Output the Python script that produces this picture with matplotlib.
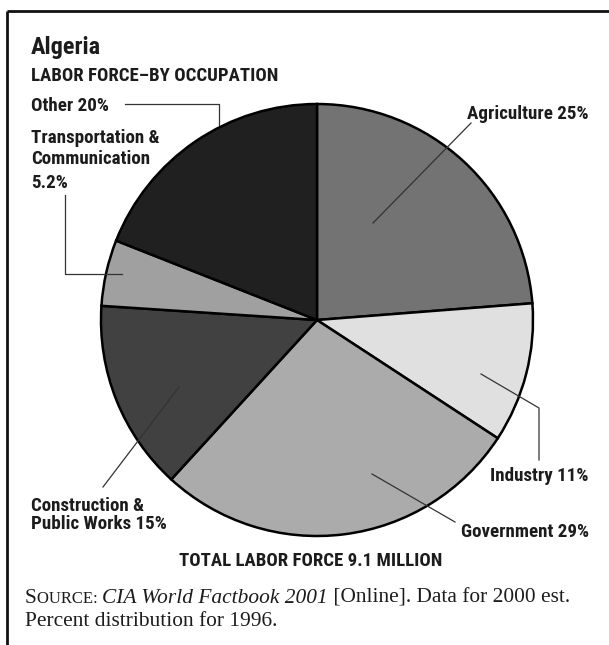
import matplotlib
matplotlib.use("Agg")
import matplotlib.pyplot as plt
from matplotlib import font_manager

# data
labels = ["Agriculture", "Industry", "Government", "Construction & Public Works",
          "Transportation & Communication", "Other"]
shares = [25, 11, 29, 15, 5.2, 20]
colors = ["#737373", "#e0e0e0", "#ababab", "#414141", "#a0a0a0", "#202020"]

W, H = 609, 645

# pick a narrow bold sans if one is installed
names = {f.name for f in font_manager.fontManager.ttflist}
cond = None
for cand in ["Roboto Condensed", "Liberation Sans Narrow", "DejaVu Sans Condensed"]:
    if cand in names:
        cond = cand
        break
if cond is None:
    cond = "Liberation Sans"
serif = "Liberation Serif"

fig = plt.figure(figsize=(W / 100, H / 100), dpi=100)
ax = fig.add_axes([0, 0, 1, 1])

def Y(y):
    return H - y

ax.pie(shares, colors=colors, startangle=90, counterclock=False,
       center=(317, Y(320)), radius=216,
       wedgeprops=dict(edgecolor="black", linewidth=1.8))
ax.set_xlim(0, W)
ax.set_ylim(0, H)
ax.set_aspect("equal")
ax.axis("off")

tc = "#1c1c1c"
bold = dict(family=cond, fontweight="bold", color=tc, va="baseline")

# frame
ax.plot([7, W], [Y(11), Y(11)], color="#111111", lw=2, solid_capstyle="butt")
ax.plot([7, 7], [Y(11), Y(645)], color="#111111", lw=2, solid_capstyle="butt")

ax.text(31, Y(54), "Algeria", fontsize=17.5, **bold)
ax.text(31, Y(81), "LABOR FORCE\u2013BY OCCUPATION", fontsize=13.5, **bold)

fs = 13.7
ax.text(31, Y(111), "Other 20%", fontsize=fs, **bold)
ax.text(31, Y(143), "Transportation &", fontsize=fs, **bold)
ax.text(31, Y(164), "Communication", fontsize=fs, **bold)
ax.text(31, Y(188), "5.2%", fontsize=fs, **bold)
ax.text(589, Y(119), "Agriculture 25%", fontsize=fs, ha="right", **bold)
ax.text(589, Y(481), "Industry 11%", fontsize=fs, ha="right", **bold)
ax.text(589, Y(537), "Government 29%", fontsize=fs, ha="right", **bold)
ax.text(31, Y(511), "Construction &", fontsize=fs, **bold)
ax.text(31, Y(529), "Public Works 15%", fontsize=fs, ha="left", **bold)
ax.text(311, Y(566), "TOTAL LABOR FORCE 9.1 MILLION", fontsize=13.5, ha="center", **bold)

# leader lines
lc = dict(color="#333333", lw=0.9)
ax.plot([125, 219, 219], [Y(104), Y(104), Y(125)], **lc)
ax.plot([65, 65, 122], [Y(195), Y(274), Y(274)], **lc)
ax.plot([471, 373], [Y(123), Y(223)], **lc)
ax.plot([481, 539, 539], [Y(374), Y(408), Y(460)], **lc)
ax.plot([372, 455], [Y(474), Y(522)], **lc)
ax.plot([103, 179], [Y(487), Y(387)], **lc)

# source note, built piece by piece
fig.canvas.draw()
r = fig.canvas.get_renderer()
x = 25
pieces = [("S", 15.4, "normal"), ("OURCE: ", 12, "normal"),
          ("CIA World Factbook 2001", 15.4, "italic"),
          (" [Online]. Data for 2000 est.", 15.4, "normal")]
for s, size, style in pieces:
    t = ax.text(x, Y(603), s, fontsize=size, family=serif, style=style,
                color=tc, va="baseline")
    bb = t.get_window_extent(r)
    x += bb.width
ax.text(25, Y(626), "Percent distribution for 1996.", fontsize=15.4,
        family=serif, color=tc, va="baseline")

fig.savefig("out.png", dpi=100)
